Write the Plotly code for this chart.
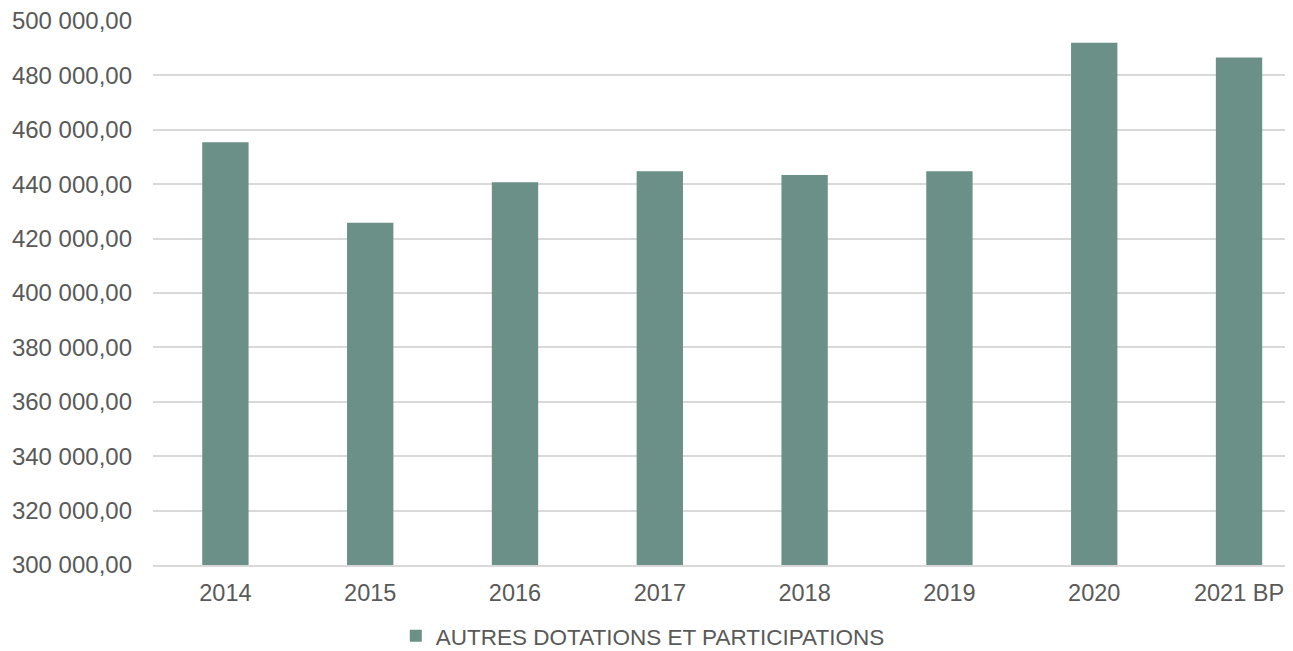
import plotly.graph_objects as go

categories = ["2014", "2015", "2016", "2017", "2018", "2019", "2020", "2021 BP"]
values = [455400, 425800, 440700, 444800, 443400, 444800, 492000, 486600]
series_name = "AUTRES DOTATIONS ET PARTICIPATIONS"

bar_color = "#6a9087"
text_color = "#595959"
grid_color = "#d9d9d9"
font_family = "Liberation Sans, Arial, sans-serif"

fig = go.Figure()
fig.add_trace(go.Bar(
    x=categories, y=values, name=series_name,
    marker=dict(color=bar_color, line=dict(width=0)),
    width=0.32,
))

fig.update_layout(
    width=1285, height=643,
    margin=dict(l=145, r=3, t=13, b=86, autoexpand=False),
    paper_bgcolor="white", plot_bgcolor="white",
    separators=", ",
    font=dict(family=font_family, size=23, color=text_color),
    showlegend=True,
    legend=dict(
        orientation="h", xref="container", yref="container",
        x=0.494, xanchor="center", y=0.023, yanchor="middle",
        font=dict(size=22.5, color=text_color),
        itemwidth=30,
    ),
    bargap=0.68,
)
fig.update_yaxes(
    range=[300000, 500000], dtick=20000, tickformat=",.2f",
    showgrid=True, gridcolor=grid_color, gridwidth=1.5,
    zeroline=False, showline=False, ticks="",
    ticklabelstandoff=20, automargin=False,
    ticklabeloverflow="allow", tickfont=dict(size=24),
)
fig.update_xaxes(
    type="category", range=[-0.5, 7.352],
    showline=True, linecolor=grid_color, linewidth=1.5,
    ticks="", ticklabelstandoff=6, automargin=False,
    ticklabeloverflow="allow", tickfont=dict(size=23.5),
)

fig.write_html("out.html")
